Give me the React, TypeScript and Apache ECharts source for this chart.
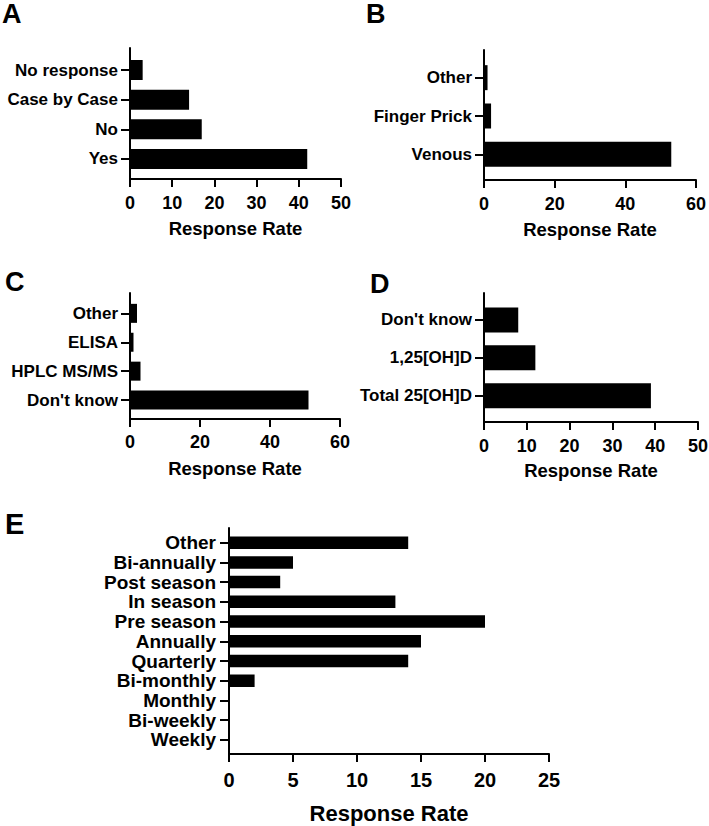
import React, { useEffect, useRef } from "react";
import * as echarts from "echarts";

// Survey responses, one panel per question
const aCategories = ["No response", "Case by Case", "No", "Yes"];
const aValues = [3, 14, 17, 42];

const bCategories = ["Other", "Finger Prick", "Venous"];
const bValues = [1, 2, 53];

const cCategories = ["Other", "ELISA", "HPLC MS/MS", "Don't know"];
const cValues = [2, 1, 3, 51];

const dCategories = ["Don't know", "1,25[OH]D", "Total 25[OH]D"];
const dValues = [8, 12, 39];

const eCategories = [
  "Other",
  "Bi-annually",
  "Post season",
  "In season",
  "Pre season",
  "Annually",
  "Quarterly",
  "Bi-monthly",
  "Monthly",
  "Bi-weekly",
  "Weekly",
];
const eValues = [14, 5, 4, 13, 20, 15, 14, 2, 0, 0, 0];

const axisTitle = "Response Rate";

const FONT = '"Liberation Sans", Arial, Helvetica, sans-serif';
const INK = "#000";

type Panel = {
  letter: string;
  categories: string[];
  values: number[];
  max: number;
  interval: number;
  // frame = axis extent, band = category area
  left: number;
  top: number;
  width: number;
  height: number;
  bandTop: number;
  bandHeight: number;
  barWidth: number;
  labelSize: number;
  tickSize: number;
  nameSize: number;
  tickMargin: number;
  nameGap: number;
  labelMargin: number;
  letterX: number;
  letterY: number;
  letterSize: number;
};

const panels: Panel[] = [
  {
    letter: "A", categories: aCategories, values: aValues, max: 50, interval: 10,
    left: 130, top: 48, width: 211, height: 131, bandTop: 55.2, bandHeight: 118.6, barWidth: 20,
    labelSize: 17, tickSize: 18, nameSize: 18.5, tickMargin: 15, nameGap: 40, labelMargin: 12,
    letterX: 2, letterY: 0, letterSize: 27,
  },
  {
    letter: "B", categories: bCategories, values: bValues, max: 60, interval: 20,
    left: 484, top: 50, width: 212, height: 130, bandTop: 58.5, bandHeight: 115, barWidth: 25,
    labelSize: 17, tickSize: 18, nameSize: 18.5, tickMargin: 15, nameGap: 40, labelMargin: 12,
    letterX: 366, letterY: 0, letterSize: 27,
  },
  {
    letter: "C", categories: cCategories, values: cValues, max: 60, interval: 20,
    left: 130, top: 293, width: 210, height: 126, bandTop: 298.9, bandHeight: 115.6, barWidth: 19,
    labelSize: 17, tickSize: 18, nameSize: 18.5, tickMargin: 14, nameGap: 39.5, labelMargin: 12,
    letterX: 5, letterY: 268, letterSize: 27,
  },
  {
    letter: "D", categories: dCategories, values: dValues, max: 50, interval: 10,
    left: 484, top: 293, width: 214, height: 129, bandTop: 301, bandHeight: 113.6, barWidth: 25,
    labelSize: 17, tickSize: 18, nameSize: 18.5, tickMargin: 15, nameGap: 39, labelMargin: 12,
    letterX: 370, letterY: 270, letterSize: 27,
  },
  {
    letter: "E", categories: eCategories, values: eValues, max: 25, interval: 5,
    left: 229, top: 528, width: 320, height: 226, bandTop: 532.8, bandHeight: 217, barWidth: 12.5,
    labelSize: 19, tickSize: 20, nameSize: 22, tickMargin: 16, nameGap: 48, labelMargin: 13,
    letterX: 5, letterY: 509, letterSize: 29,
  },
];

function buildOption() {
  const grid: any[] = [];
  const xAxis: any[] = [];
  const yAxis: any[] = [];
  const series: any[] = [];
  const graphic: any[] = [];
  const line = { color: INK, width: 2 };

  panels.forEach((p) => {
    const gi = grid.length;
    const xi = xAxis.length;
    const yi = yAxis.length;

    // frame grid: carries the value axis and the full-height y axis line
    grid.push({
      left: p.left, top: p.top, width: p.width, height: p.height,
      containLabel: false, outerBoundsMode: "none",
    });
    // band grid: the categories and their bars
    grid.push({
      left: p.left, top: p.bandTop, width: p.width, height: p.bandHeight,
      containLabel: false, outerBoundsMode: "none",
    });

    xAxis.push({
      type: "value",
      gridIndex: gi,
      min: 0,
      max: p.max,
      interval: p.interval,
      axisLine: { show: true, onZero: false, lineStyle: line },
      axisTick: { show: true, length: 8, lineStyle: line },
      axisLabel: {
        color: INK, fontFamily: FONT, fontWeight: "bold",
        fontSize: p.tickSize, margin: p.tickMargin,
      },
      splitLine: { show: false },
      name: axisTitle,
      nameLocation: "middle",
      nameGap: p.nameGap,
      nameTextStyle: {
        color: INK, fontFamily: FONT, fontWeight: "bold", fontSize: p.nameSize,
      },
    });
    xAxis.push({ type: "value", gridIndex: gi + 1, min: 0, max: p.max, show: false });

    yAxis.push({
      type: "value",
      gridIndex: gi,
      min: 0,
      max: 1,
      axisLine: { show: true, onZero: false, lineStyle: line },
      axisTick: { show: false },
      axisLabel: { show: false },
      splitLine: { show: false },
    });
    yAxis.push({
      type: "category",
      gridIndex: gi + 1,
      data: p.categories,
      inverse: true,
      axisLine: { show: false },
      axisTick: { show: true, alignWithLabel: true, length: 9, lineStyle: line },
      axisLabel: {
        interval: 0, color: INK, fontFamily: FONT, fontWeight: "bold",
        fontSize: p.labelSize, margin: p.labelMargin,
      },
      splitLine: { show: false },
    });

    series.push({
      type: "bar",
      xAxisIndex: xi + 1,
      yAxisIndex: yi + 1,
      data: p.values,
      barWidth: p.barWidth,
      itemStyle: { color: INK },
      silent: true,
    });

    graphic.push({
      type: "text",
      left: p.letterX,
      top: p.letterY,
      style: {
        text: p.letter,
        fill: INK,
        font: `bold ${p.letterSize}px ${FONT}`,
      },
    });
  });

  return {
    animation: false,
    backgroundColor: "#fff",
    grid,
    xAxis,
    yAxis,
    series,
    graphic,
  };
}

export default function App() {
  const ref = useRef<HTMLDivElement>(null);

  useEffect(() => {
    document.body.style.margin = "0";
    if (!ref.current) return;
    const chart = echarts.init(ref.current, null, { renderer: "svg" });
    chart.setOption(buildOption());
    return () => chart.dispose();
  }, []);

  return <div ref={ref} style={{ width: 709, height: 826, background: "#fff" }} />;
}
